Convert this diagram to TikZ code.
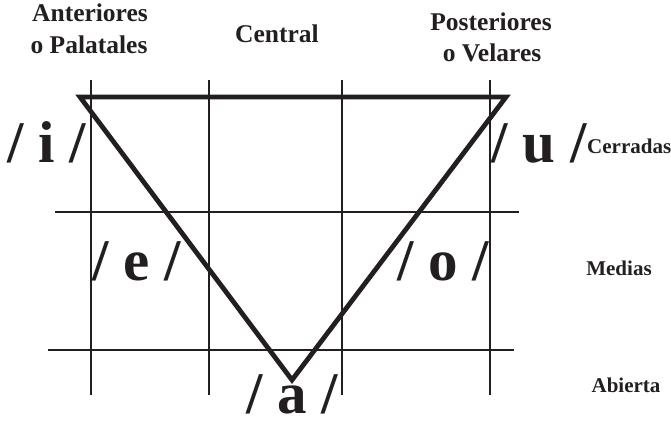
\documentclass[tikz,border=0pt]{standalone}
\usepackage{fontspec}
\setmainfont{Liberation Serif}
\definecolor{ink}{HTML}{231F20}
\begin{document}
\begin{tikzpicture}[x=1pt,y=-1pt,
  gridline/.style={line width=1.8pt, draw=ink},
  tri/.style={line width=4.8pt, draw=ink, line join=miter},
  head/.style={font=\bfseries\fontsize{25.5}{31}\selectfont, text=ink, anchor=base, inner sep=0pt},
  side/.style={font=\bfseries\fontsize{21}{25}\selectfont, text=ink, anchor=base, inner sep=0pt},
  vowel/.style={font=\bfseries\fontsize{59}{60}\selectfont, text=ink, anchor=base, inner sep=0pt}]
\useasboundingbox (0,0) rectangle (671,420);
% grid coordinates
\foreach \n/\x in {v1/91, v2/209, v3/342, v4/490} {
  \coordinate (\n t) at (\x,80);
  \coordinate (\n b) at (\x,395);
}
\coordinate (h1l) at (55,212);
\coordinate (h1r) at (519,212);
\coordinate (h2l) at (48,350);
\coordinate (h2r) at (514,350);
\foreach \n in {v1,v2,v3,v4} { \draw[gridline] (\n t) -- (\n b); }
\draw[gridline] (h1l) -- (h1r);
\draw[gridline] (h2l) -- (h2r);
% triangle
\coordinate (ti) at (80,97);
\coordinate (tu) at (506,97);
\coordinate (ta) at (292,380);
\draw[tri] (ti) -- (tu) -- (ta) -- cycle;
% headings
\node[head] (ant1) at (90,22) {Anteriores};
\node[head] (ant2) at (89,53) {o Palatales};
\node[head] (cen) at (277,43) {Central};
\node[head] (pos1) at (491,31) {Posteriores};
\node[head] (pos2) at (492,62) {o Velares};
% side labels
\node[side, anchor=base west] (cer) at (587,153) {Cerradas};
\node[side] (med) at (619,275) {Medias};
\node[side] (abi) at (626,392) {Abierta};
% vowels
\node[vowel] (vi) at (46.5,162) {/ i /};
\node[vowel] (vu) at (539,162) {/ u /};
\node[vowel] (ve) at (137,280) {/ e /};
\node[vowel] (vo) at (443,280) {/ o /};
\node[vowel] (va) at (292,413) {/ a /};
\end{tikzpicture}
\end{document}
